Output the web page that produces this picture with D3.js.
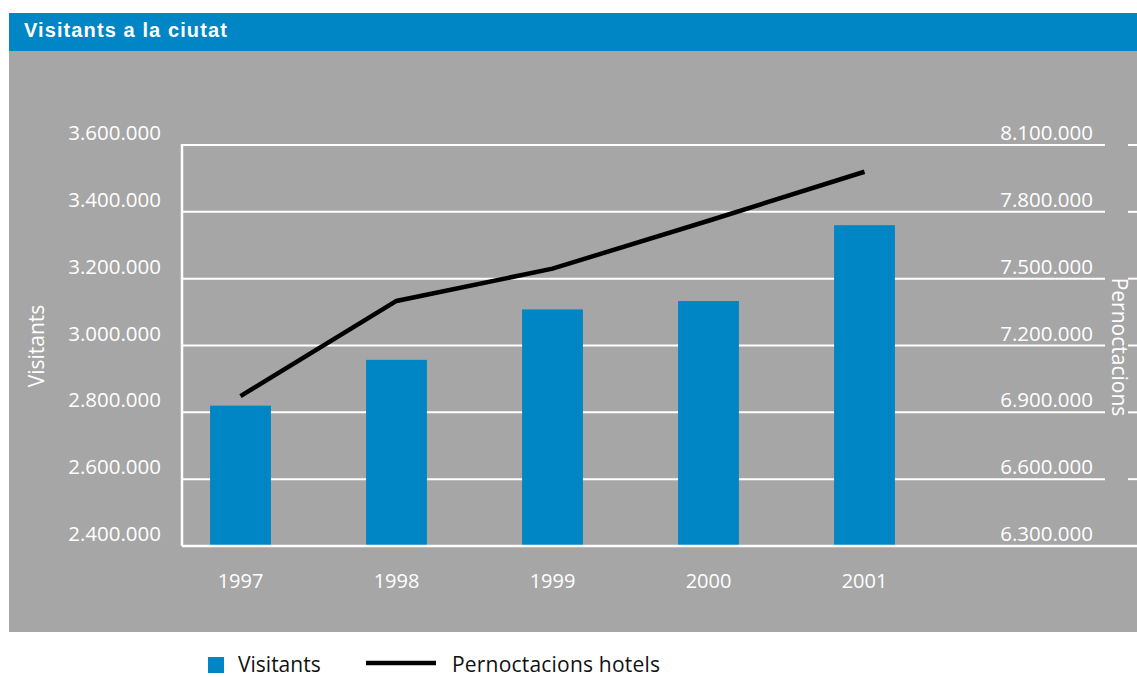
<!DOCTYPE html>
<html>
<head>
<meta charset="utf-8">
<script src="https://cdn.jsdelivr.net/npm/d3@7"></script>
<style>
  body { margin: 0; background: #fff; }
  text { font-family: "Open Sans", "Noto Sans", sans-serif; }
</style>
</head>
<body>
<div class="canva"></div>
<script>
// data
const years = ["1997", "1998", "1999", "2000", "2001"];
const visitants = [2820000, 2957000, 3108000, 3133000, 3360000];
const pernoctacions = [6973000, 7400000, 7545000, 7760000, 7980000];
const leftTicks = [2400000, 2600000, 2800000, 3000000, 3200000, 3400000, 3600000];
const rightTicks = [6300000, 6600000, 6900000, 7200000, 7500000, 7800000, 8100000];

const blue = "#0085c5";
const grey = "#a6a6a6";

const svg = d3.select(".canva").append("svg")
  .attr("width", 1137)
  .attr("height", 677);

// header + panel
svg.append("rect").attr("x", 9).attr("y", 13).attr("width", 1128).attr("height", 38).attr("fill", blue);
svg.append("text")
  .attr("x", 24).attr("y", 37)
  .style("font-family", "'Liberation Sans', Arial, sans-serif")
  .style("font-weight", "bold")
  .style("font-size", "20px")
  .style("letter-spacing", "1.1px")
  .attr("fill", "#fff")
  .text("Visitants a la ciutat");
svg.append("rect").attr("x", 9).attr("y", 51).attr("width", 1128).attr("height", 581).attr("fill", grey);

const plot = { left: 182, top: 145, bottom: 546, gridEnd: 1105 };

const x = d3.scaleBand()
  .domain(years)
  .range([162.5, 942.5])
  .paddingInner(0.61)
  .paddingOuter(0.305);

const yL = d3.scaleLinear().domain([2400000, 3600000]).range([plot.bottom, plot.top]);
const yR = d3.scaleLinear().domain([6300000, 8100000]).range([plot.bottom, plot.top]);

const fmt = d => d3.format(",")(d).replace(/,/g, ".");

// gridlines
const grid = svg.append("g");
grid.selectAll("line.g")
  .data(leftTicks.slice(1))
  .enter().append("line")
  .attr("x1", plot.left).attr("x2", plot.gridEnd)
  .attr("y1", d => yL(d)).attr("y2", d => yL(d))
  .attr("stroke", "#fff").attr("stroke-width", 2);
grid.selectAll("line.t")
  .data(leftTicks.slice(1))
  .enter().append("line")
  .attr("x1", 1128).attr("x2", 1137)
  .attr("y1", d => yL(d)).attr("y2", d => yL(d))
  .attr("stroke", "#fff").attr("stroke-width", 2);

// bars
svg.selectAll("rect.bar")
  .data(visitants)
  .enter().append("rect")
  .attr("class", "bar")
  .attr("x", (d, i) => x(years[i]))
  .attr("width", x.bandwidth())
  .attr("y", d => yL(d))
  .attr("height", d => plot.bottom - yL(d))
  .attr("fill", blue);

// axes lines
svg.append("line")
  .attr("x1", plot.left).attr("x2", 1137)
  .attr("y1", plot.bottom).attr("y2", plot.bottom)
  .attr("stroke", "#fff").attr("stroke-width", 2.5);
svg.append("line")
  .attr("x1", plot.left).attr("x2", plot.left)
  .attr("y1", plot.top - 1).attr("y2", plot.bottom)
  .attr("stroke", "#fff").attr("stroke-width", 2.5);

// line series
const line = d3.line()
  .x((d, i) => x(years[i]) + x.bandwidth() / 2)
  .y(d => yR(d));
svg.append("path")
  .datum(pernoctacions)
  .attr("d", line)
  .attr("fill", "none")
  .attr("stroke", "#000")
  .attr("stroke-width", 4.5);

// tick labels
svg.selectAll("text.yl")
  .data(leftTicks)
  .enter().append("text")
  .attr("x", 161).attr("y", d => yL(d) - 5)
  .attr("text-anchor", "end")
  .attr("fill", "#fff")
  .style("font-size", "20.5px")
  .text(fmt);

svg.selectAll("text.yr")
  .data(rightTicks)
  .enter().append("text")
  .attr("x", 1093).attr("y", d => yR(d) - 5)
  .attr("text-anchor", "end")
  .attr("fill", "#fff")
  .style("font-size", "20.5px")
  .text(fmt);

svg.selectAll("text.xl")
  .data(years)
  .enter().append("text")
  .attr("x", d => x(d) + x.bandwidth() / 2).attr("y", 588)
  .attr("text-anchor", "middle")
  .attr("fill", "#fff")
  .style("font-size", "20px")
  .text(d => d);

// axis titles
svg.append("text")
  .attr("transform", "translate(44,346) rotate(-90)")
  .attr("text-anchor", "middle")
  .attr("fill", "#fff")
  .style("font-size", "21px")
  .text("Visitants");
svg.append("text")
  .attr("transform", "translate(1112,347) rotate(90)")
  .attr("text-anchor", "middle")
  .attr("fill", "#fff")
  .style("font-size", "21px")
  .text("Pernoctacions");

// legend
const legend = svg.append("g")
  .style("font-family", "'Liberation Sans', Arial, sans-serif")
  .style("font-size", "21px");
legend.append("rect").attr("x", 208).attr("y", 657).attr("width", 16).attr("height", 16).attr("fill", blue);
legend.append("text").attr("x", 238).attr("y", 672).attr("fill", "#111").text("Visitants");
legend.append("line").attr("x1", 366).attr("x2", 436).attr("y1", 663).attr("y2", 663)
  .attr("stroke", "#000").attr("stroke-width", 4.5);
legend.append("text").attr("x", 452).attr("y", 672).attr("fill", "#111")
  .style("letter-spacing", "0.2px").text("Pernoctacions hotels");
</script>
</body>
</html>
